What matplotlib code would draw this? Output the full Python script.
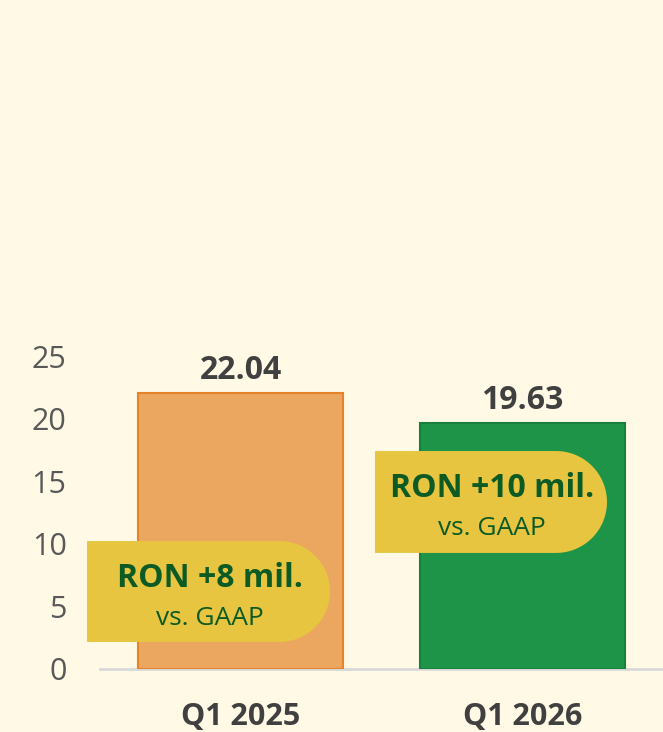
import matplotlib
matplotlib.use('Agg')
import matplotlib.pyplot as plt
import numpy as np
from matplotlib.path import Path
from matplotlib.patches import PathPatch
from matplotlib.transforms import IdentityTransform

# data
quarters = ["Q1 2025", "Q1 2026"]
values = [22.04, 19.63]
bar_colors = ["#EBA660", "#1D9448"]
edge_colors = ["#E5832A", "#17803C"]
callout_main = ["RON +8 mil.", "RON +10 mil."]
callout_sub = ["vs. GAAP", "vs. GAAP"]
# callout boxes in data units: (x0, x1, y0, y1)
callout_boxes = [(-0.546, 0.317, 2.16, 10.22), (0.477, 1.301, 9.27, 17.41)]

BG = "#FFF9E6"
plt.rcParams['font.family'] = ['Open Sans', 'DejaVu Sans']

fig = plt.figure(figsize=(6.63, 7.32), dpi=100, facecolor=BG)
ax = fig.add_axes([100 / 663, (732 - 669) / 732, 563 / 663, (669 - 356) / 732])
ax.set_facecolor(BG)

x = np.arange(len(quarters))
ax.bar(x, values, width=0.728, color=bar_colors, edgecolor=edge_colors, linewidth=1.5, zorder=2)
ax.set_xlim(-0.5, 1.5)
ax.set_ylim(0, 25)

for xi, v in zip(x, values):
    ax.text(xi, v + 0.5, f"{v:.2f}", ha='center', va='bottom', fontsize=23,
            fontweight='bold', color='#404040', zorder=5)

for s in ['top', 'right', 'left']:
    ax.spines[s].set_visible(False)
ax.spines['bottom'].set_color('#D9D9D9')
ax.spines['bottom'].set_linewidth(2)
ax.spines['bottom'].set_bounds(-0.5, 1.5)
ax.spines['bottom'].set_zorder(1)

ax.set_yticks(range(0, 26, 5))
ax.tick_params(axis='y', length=0, labelsize=22, labelcolor='#595959', pad=24)
ax.set_xticks(x)
ax.set_xticklabels(quarters, fontsize=22, fontweight='bold', color='#404040')
ax.tick_params(axis='x', length=0, pad=24)

fig.canvas.draw()


def callout_path(x0, x1, y0, y1):
    (px0, py0) = ax.transData.transform((x0, y0))
    (px1, py1) = ax.transData.transform((x1, y1))
    r = (py1 - py0) / 2.0
    cx = px1 - r
    cy = (py0 + py1) / 2.0
    theta = np.linspace(-np.pi / 2, np.pi / 2, 60)
    arc = np.column_stack([cx + r * np.cos(theta), cy + r * np.sin(theta)])
    verts = np.vstack([[px0, py0], arc, [px0, py1], [px0, py0]])
    return Path(verts, closed=True), (px0 + px1) / 2.0 + 1, cy


for (bx, main, sub) in zip(callout_boxes, callout_main, callout_sub):
    path, tx, ty = callout_path(*bx)
    patch = PathPatch(path, facecolor='#E8C540', edgecolor='none', transform=IdentityTransform(), zorder=4)
    patch.set_clip_on(False)
    fig.add_artist(patch)
    fig.text(tx / 663, (ty + 13) / 732, main, ha='center', va='center', fontsize=23,
             fontweight='bold', color='#0C5A24', zorder=6)
    fig.text(tx / 663, (ty - 27) / 732, sub, ha='center', va='center', fontsize=19,
             color='#0C5A24', zorder=6)

plt.savefig('out.png', dpi=100, facecolor=BG)
plt.close()
